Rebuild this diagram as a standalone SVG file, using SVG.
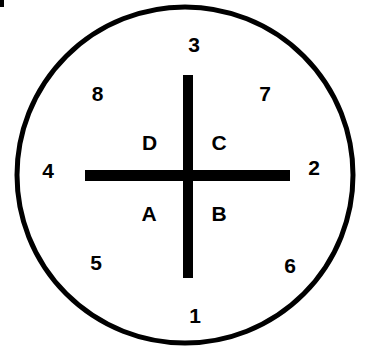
<svg xmlns="http://www.w3.org/2000/svg" width="366" height="351" viewBox="0 0 366 351">
<style>
.lbl{font-family:"Liberation Sans",Arial,sans-serif;font-weight:bold;font-size:21px;fill:#000;text-anchor:middle}
.bar{fill:#000}
</style>
<rect width="366" height="351" fill="#fff"/>
<rect x="0" y="0" width="4" height="7" fill="#000"/>
<g id="outline">
<circle cx="185" cy="175" r="168" fill="none" stroke="#000" stroke-width="5"/>
</g>
<g id="connectors">
<rect class="bar" x="183" y="75" width="10" height="203"/>
<rect class="bar" x="85" y="170" width="205" height="11"/>
</g>
<g id="n3"><text class="lbl" x="194" y="52">3</text></g>
<g id="n8"><text class="lbl" x="97.5" y="101">8</text></g>
<g id="n7"><text class="lbl" x="265" y="101">7</text></g>
<g id="n4"><text class="lbl" x="48" y="178">4</text></g>
<g id="n2"><text class="lbl" x="314" y="175">2</text></g>
<g id="nD"><text class="lbl" x="149.5" y="150">D</text></g>
<g id="nC"><text class="lbl" x="219" y="150">C</text></g>
<g id="nA"><text class="lbl" x="149" y="221">A</text></g>
<g id="nB"><text class="lbl" x="219" y="221">B</text></g>
<g id="n5"><text class="lbl" x="96" y="270">5</text></g>
<g id="n6"><text class="lbl" x="290" y="273">6</text></g>
<g id="n1"><text class="lbl" x="195" y="323">1</text></g>
</svg>
